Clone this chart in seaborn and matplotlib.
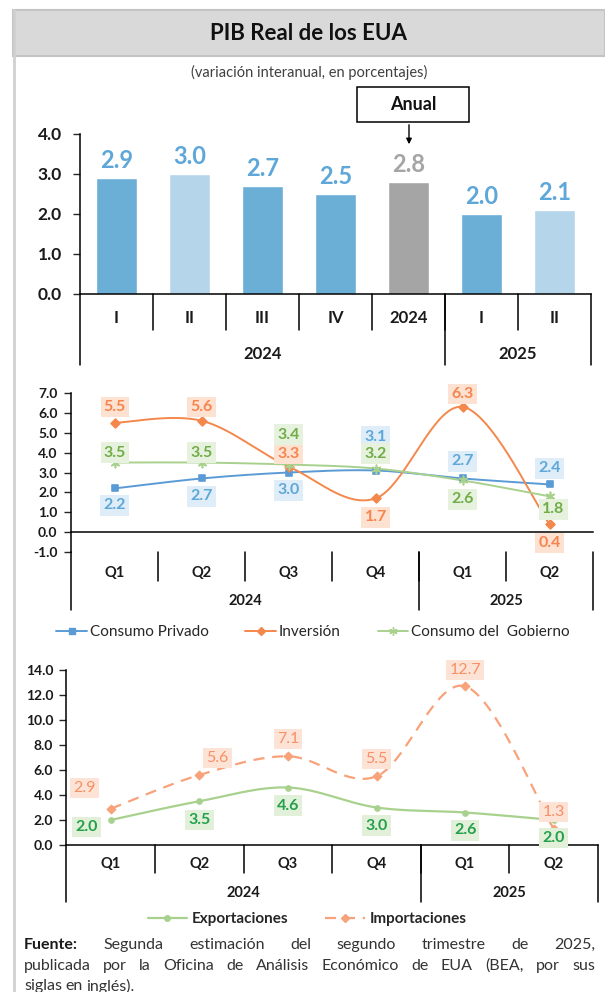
import matplotlib
matplotlib.use("Agg")
import matplotlib.pyplot as plt
from matplotlib.lines import Line2D
from matplotlib.patches import Rectangle, FancyArrowPatch
import numpy as np
import pandas as pd
import seaborn as sns

# ---- data ----
gdp_categories = ["I", "II", "III", "IV", "2024", "I", "II"]
gdp_values = [2.9, 3.0, 2.7, 2.5, 2.8, 2.0, 2.1]
gdp_years = ["2024", "2025"]
gdp_year_sizes = [5, 2]

quarters = ["Q1", "Q2", "Q3", "Q4", "Q1", "Q2"]
quarter_years = ["2024", "2025"]
quarter_year_sizes = [4, 2]

consumo_privado = [2.2, 2.7, 3.0, 3.1, 2.7, 2.4]
inversion = [5.5, 5.6, 3.3, 1.7, 6.3, 0.4]
consumo_gobierno = [3.5, 3.5, 3.4, 3.2, 2.6, 1.8]

exportaciones = [2.0, 3.5, 4.6, 3.0, 2.6, 2.0]
importaciones = [2.9, 5.6, 7.1, 5.5, 12.7, 1.3]

W, H = 605, 992
FONT = ["Lato", "DejaVu Sans"]

sns.set_style("white")
plt.rcParams["font.family"] = FONT
plt.rcParams["axes.edgecolor"] = "black"

fig = plt.figure(figsize=(W / 100, H / 100), dpi=100)


def fx(px):
    return px / W


def fy(px):
    return 1 - px / H


def smooth_curve(y, steps=40):
    # Catmull-Rom like Excel's "smoothed line"
    y = np.asarray(y, float)
    x = np.arange(len(y), dtype=float)
    py = np.concatenate([[y[0]], y, [y[-1]]])
    pxs = np.concatenate([[x[0]], x, [x[-1]]])
    t = np.linspace(0, 1, steps)
    xs, ys = [], []
    for i in range(len(y) - 1):
        for src, out in ((pxs, xs), (py, ys)):
            p0, p1, p2, p3 = src[i:i + 4]
            out.extend(0.5 * (2 * p1 + (-p0 + p2) * t + (2 * p0 - 5 * p1 + 4 * p2 - p3) * t ** 2
                              + (-p0 + 3 * p1 - 3 * p2 + p3) * t ** 3))
    return np.array(xs), np.array(ys)


def category_axis(ax, labels, years, year_sizes, sep_px, long_px, lab_px, year_px, fs_cat, fs_year):
    h_px = ax.get_position().height * H
    tr = ax.get_xaxis_transform()
    n = len(labels)
    for i in range(1, n):
        ax.plot([i - 0.5, i - 0.5], [0, -sep_px / h_px], transform=tr, color="black", lw=1.1, clip_on=False)
    bounds = np.concatenate([[0], np.cumsum(year_sizes)])
    for b in bounds:
        ax.plot([b - 0.5, b - 0.5], [0, -long_px / h_px], transform=tr, color="black", lw=1.1, clip_on=False)
    for i, lab in enumerate(labels):
        ax.text(i, -lab_px / h_px, lab, transform=tr, ha="center", va="center",
                fontsize=fs_cat, fontweight="bold", color="#1a1a1a")
    for yr, a, b in zip(years, bounds[:-1], bounds[1:]):
        ax.text((a + b - 1) / 2, -year_px / h_px, yr, transform=tr, ha="center", va="center",
                fontsize=fs_year, fontweight="bold", color="#1a1a1a")


def style_axis(ax, ticks, fs, pad):
    sns.despine(ax=ax, top=True, right=True)
    ax.set_yticks(ticks)
    ax.set_yticklabels([f"{t:.1f}" for t in ticks], fontsize=fs, fontweight="bold", color="#1a1a1a")
    ax.tick_params(axis="y", length=5, width=1, direction="out", pad=pad, left=True)
    ax.tick_params(axis="x", length=0, labelbottom=False)
    ax.set_xlabel("")
    ax.set_ylabel("")
    ax.patch.set_alpha(0)
    for s in ("left", "bottom"):
        ax.spines[s].set_linewidth(1.1)


def point_labels(ax, values, offsets, color, bg, fs, weight="bold"):
    for i, (v, (dx, dy)) in enumerate(zip(values, offsets)):
        ax.annotate(f"{v:.1f}", (i, v), xytext=(dx, dy), textcoords="offset pixels",
                    ha="center", va="center", fontsize=fs, fontweight=weight, color=color, zorder=6,
                    bbox=dict(boxstyle="square,pad=0.2", facecolor=bg, edgecolor="none"))


# ---- frame and title ----
fig.patches.append(Rectangle((fx(13), fy(55.5)), fx(605 - 13), 45.5 / H, transform=fig.transFigure,
                             facecolor="#d9d9d9", edgecolor="#c4c4c4", lw=1.5, zorder=0))
fig.lines.append(Line2D([fx(13.5), fx(13.5)], [fy(10), 0], transform=fig.transFigure,
                        color="#d0d0d0", lw=2))
fig.text(fx(309), fy(33), "PIB Real de los EUA", ha="center", va="center",
         fontsize=16, fontweight="bold", color="#111111")
fig.text(fx(309), fy(72), "(variación interanual, en porcentajes)", ha="center", va="center",
         fontsize=10.5, color="#404040")

# ---- chart 1: bars ----
ax1 = fig.add_axes([fx(80), fy(293.6), fx(591 - 80), 160 / H])
bar_palette = ["#6baed6", "#b4d5ea", "#6baed6", "#6baed6", "#a5a5a5", "#6baed6", "#b4d5ea"]
label_palette = ["#5ea7d8"] * 4 + ["#a5a5a5"] + ["#5ea7d8"] * 2
df1 = pd.DataFrame({"pos": range(len(gdp_values)), "valor": gdp_values})
sns.barplot(data=df1, x="pos", y="valor", hue="pos", palette=bar_palette, legend=False,
            width=0.555, saturation=1, ax=ax1, native_scale=True)
ax1.set_xlim(-0.5, len(gdp_values) - 0.5)
ax1.set_ylim(0, 4)
style_axis(ax1, [0, 1, 2, 3, 4], 12.5, 8)
for i, v in enumerate(gdp_values):
    ax1.annotate(f"{v:.1f}", (i, v), xytext=(0, 17), textcoords="offset pixels", ha="center",
                 va="center", fontsize=17, fontweight="bold", color=label_palette[i])
category_axis(ax1, gdp_categories, gdp_years, gdp_year_sizes, 36.4, 71.4, 24.4, 60.4, 12, 12)

# "Anual" callout
fig.patches.append(Rectangle((fx(357), fy(122)), fx(112), 34.5 / H, transform=fig.transFigure,
                             facecolor="white", edgecolor="black", lw=1.1))
fig.text(fx(413), fy(104), "Anual", ha="center", va="center", fontsize=13, fontweight="bold",
         color="#111111")
fig.add_artist(FancyArrowPatch((fx(409), fy(122)), (fx(409), fy(147)), transform=fig.transFigure,
                               arrowstyle="-|>", mutation_scale=8, color="black", lw=1))

# ---- chart 2: components ----
ax2 = fig.add_axes([fx(71.4), fy(552), fx(593 - 71.4), 159 / H])
series2 = [
    ("Consumo Privado", consumo_privado, "#5b9bd5", "s", 4.5, "#5ea7d8", "#deedf8",
     [(0, -17), (0, -18), (0, -18), (0, 34), (0, 17), (0, 16)]),
    ("Inversión", inversion, "#f4874b", "D", 4.5, "#f7844e", "#fde2d2",
     [(0, 16), (0, 14), (0, 13), (0, -19), (0, 13), (0, -19)]),
    ("Consumo del  Gobierno", consumo_gobierno, "#a9d18e", (6, 2, 0), 6, "#70ad47", "#e6f2de",
     [(0, 10), (0, 10), (0, 30), (0, 15), (0, -19), (4, -13)]),
]
handles2 = []
for name, vals, col, mk, ms, tcol, bg, offs in series2:
    xs, ys = smooth_curve(vals)
    ax2.plot(xs, ys, color=col, lw=1.4, zorder=3)
    df = pd.DataFrame({"pos": range(len(vals)), "valor": vals})
    sns.scatterplot(data=df, x="pos", y="valor", marker=mk, s=ms ** 2, color=col,
                    edgecolor=col, linewidth=1.2, zorder=4, ax=ax2)
    point_labels(ax2, vals, offs, tcol, bg, 11.5)
    handles2.append(Line2D([], [], color=col, lw=1.4, marker=mk, markersize=ms, mec=col, mfc=col))
ax2.set_xlim(-0.5, len(quarters) - 0.5)
ax2.set_ylim(-1, 7)
style_axis(ax2, list(range(-1, 8)), 10, 5)
ax2.spines["bottom"].set_position(("data", 0))
category_axis(ax2, quarters, quarter_years, quarter_year_sizes, 29, 58, 21, 49, 10.5, 10.5)
fig.legend(handles2, [s[0] for s in series2], loc="center", bbox_to_anchor=(fx(313), fy(632)),
           ncol=3, frameon=False, handlelength=2.0, handletextpad=0.2, columnspacing=2.4,
           prop={"family": FONT, "size": 11})

# ---- chart 3: trade ----
ax3 = fig.add_axes([fx(66.4), fy(845), fx(598 - 66.4), 175 / H])
series3 = [
    ("Exportaciones", exportaciones, "#a9d18e", "o", 4, "-", "#22a04b", "#e2f0d9", "bold",
     [(-24, -7), (0, -19), (0, -18), (0, -18), (0, -18), (0, -18)]),
    ("Importaciones", importaciones, "#f8a27a", "D", 4.5, (0, (5, 3.5)), "#f79066", "#fde3d6", "normal",
     [(-26, 21), (18, 17), (0, 17), (0, 17), (0, 16), (0, 17)]),
]
handles3 = []
for name, vals, col, mk, ms, ls, tcol, bg, wt, offs in series3:
    xs, ys = smooth_curve(vals)
    ax3.plot(xs, ys, color=col, lw=1.6, ls=ls, zorder=3)
    df = pd.DataFrame({"pos": range(len(vals)), "valor": vals})
    sns.scatterplot(data=df, x="pos", y="valor", marker=mk, s=ms ** 2, color=col,
                    edgecolor=col, linewidth=0.8, zorder=4, ax=ax3)
    point_labels(ax3, vals, offs, tcol, bg, 11.5, wt)
    handles3.append(Line2D([], [], color=col, lw=1.6, ls=ls, marker=mk, markersize=ms, mec=col, mfc=col))
ax3.set_xlim(-0.5, len(quarters) - 0.5)
ax3.set_ylim(0, 14)
style_axis(ax3, list(range(0, 15, 2)), 10, 4.5)
category_axis(ax3, quarters, quarter_years, quarter_year_sizes, 28, 57, 19, 48, 10.5, 10.5)
fig.legend(handles3, [s[0] for s in series3], loc="center", bbox_to_anchor=(fx(307), fy(919)),
           ncol=2, frameon=False, handlelength=2.6, handletextpad=0.3, columnspacing=2.4,
           prop={"family": FONT, "size": 11, "weight": "bold"})

# ---- source note (justified) ----
source_lines = [
    "Fuente: Segunda estimación del segundo trimestre de 2025,",
    "publicada por la Oficina de Análisis Económico de EUA (BEA, por sus",
    "siglas en inglés).",
]
renderer = fig.canvas.get_renderer()
for k, (line, y_px) in enumerate(zip(source_lines, [945, 966, 986])):
    words = line.split(" ")
    texts = []
    for j, w in enumerate(words):
        bold = k == 0 and j == 0
        texts.append(fig.text(0, fy(y_px), w, va="center", ha="left", fontsize=11.5,
                              fontweight="bold" if bold else "normal",
                              color="#1a1a1a" if bold else "#333333"))
    widths = [t.get_window_extent(renderer).width for t in texts]
    if k < len(source_lines) - 1:
        gap = (595 - 24 - sum(widths)) / (len(words) - 1)
    else:
        gap = 3.5
    x = 24
    for t, w in zip(texts, widths):
        t.set_x(fx(x))
        x += w + gap

fig.savefig("out.png", dpi=100)
